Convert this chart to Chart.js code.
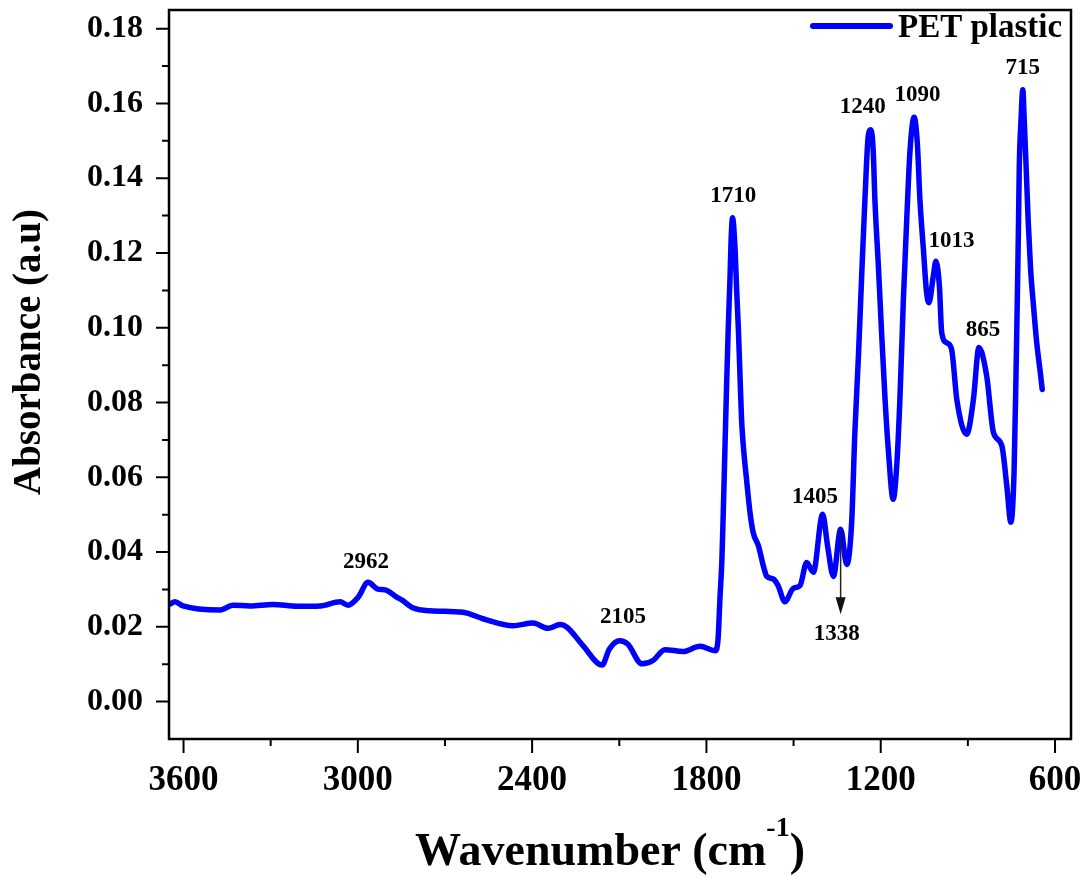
<!DOCTYPE html>
<html>
<head>
<meta charset="utf-8">
<title>PET plastic FTIR</title>
<script src="https://cdn.jsdelivr.net/npm/chart.js@4.4.1/dist/chart.umd.min.js"></script>
<style>
  html, body { margin: 0; padding: 0; background: #fff; }
  #wrap { width: 1088px; height: 876px; position: relative; }
</style>
</head>
<body>
<div id="wrap"><canvas id="ftir"></canvas></div>
<script>
// FTIR spectrum of PET plastic
const wavenumbers = [
  3649, 3629, 3602, 3474, 3430, 3371, 3292, 3209, 3129, 3061,
  3034, 2999, 2965, 2931, 2906, 2865, 2845, 2813, 2751, 2638,
  2567, 2466, 2397, 2345, 2304, 2280, 2225, 2159, 2134, 2098,
  2071, 2022, 1984, 1943, 1881, 1822, 1770, 1760, 1753, 1747,
  1742, 1736, 1730, 1725, 1719, 1715, 1710, 1702, 1696, 1690,
  1684, 1679, 1673, 1662, 1650, 1639, 1621, 1604, 1592, 1570,
  1553, 1530, 1501, 1478, 1455, 1432, 1400, 1383, 1363, 1338,
  1317, 1300, 1289, 1277, 1266, 1254, 1243, 1234, 1226, 1220,
  1208, 1197, 1185, 1174, 1157, 1145, 1134, 1122, 1110, 1099,
  1085, 1074, 1065, 1053, 1042, 1034, 1019, 1010, 998, 990,
  973, 956, 938, 904, 881, 862, 835, 812, 783, 766,
  752, 741, 734, 730, 726, 723, 717, 711, 706, 700,
  692, 684, 675, 663, 652, 644
];
const absorbance = [
  0.0260, 0.0267, 0.0256, 0.0245, 0.0258, 0.0256, 0.0260, 0.0255, 0.0256, 0.0267,
  0.0258, 0.0279, 0.0319, 0.0301, 0.0299, 0.0279, 0.0270, 0.0252, 0.0243, 0.0239,
  0.0221, 0.0203, 0.0210, 0.0196, 0.0206, 0.0199, 0.0150, 0.0098, 0.0141, 0.0163,
  0.0154, 0.0101, 0.0110, 0.0139, 0.0134, 0.0148, 0.0136, 0.0167, 0.0283, 0.0373,
  0.0506, 0.0684, 0.0862, 0.0996, 0.1129, 0.1236, 0.1294, 0.1218, 0.1103, 0.0996,
  0.0862, 0.0755, 0.0684, 0.0595, 0.0506, 0.0452, 0.0417, 0.0363, 0.0335, 0.0328,
  0.0310, 0.0267, 0.0303, 0.0310, 0.0372, 0.0346, 0.0501, 0.0417, 0.0335, 0.0461,
  0.0367, 0.0480, 0.0720, 0.0920, 0.1130, 0.1350, 0.1512, 0.1530, 0.1476, 0.1342,
  0.1164, 0.0987, 0.0808, 0.0675, 0.0541, 0.0630, 0.0808, 0.1076, 0.1298, 0.1476,
  0.1563, 0.1494, 0.1342, 0.1209, 0.1093, 0.1067, 0.1138, 0.1178, 0.1111, 0.0987,
  0.0960, 0.0942, 0.0808, 0.0715, 0.0808, 0.0947, 0.0870, 0.0720, 0.0684, 0.0577,
  0.0480, 0.0613, 0.0889, 0.1067, 0.1263, 0.1432, 0.1556, 0.1637, 0.1556, 0.1441,
  0.1280, 0.1156, 0.1067, 0.0960, 0.0889, 0.0835
];

const xTicks = [600, 1200, 1800, 2400, 3000, 3600];
const xMinorTicks = [900, 1500, 2100, 2700, 3300];
const yTicks = [0, 0.02, 0.04, 0.06, 0.08, 0.10, 0.12, 0.14, 0.16, 0.18];
const yMinorTicks = [0.01, 0.03, 0.05, 0.07, 0.09, 0.11, 0.13, 0.15, 0.17];

// peak annotations: text and the (wavenumber, absorbance) spot it sits at
const peakLabels = ['2962', '2105', '1710', '1405', '1338', '1240', '1090', '1013', '865', '715'];
const peakLabelWn = [2972, 2087, 1708, 1426, 1351, 1262, 1073, 956, 848, 711];
const peakLabelAbs = [0.0373, 0.0227, 0.1351, 0.0547, 0.0181, 0.1591, 0.1623, 0.1231, 0.0995, 0.1694];

const seriesName = 'PET plastic';
const xTitle = 'Wavenumber (cm';
const xTitleSup = '-1';
const yTitle = 'Absorbance (a.u)';

const SERIF = '"Liberation Serif", "Times New Roman", serif';
const BLUE = '#0000ff';

Chart.defaults.font.family = SERIF;
Chart.defaults.color = '#000';

// frame, ticks, legend, titles and peak notes drawn on top of the chart
const decorPlugin = {
  id: 'decor',
  afterDraw(chart) {
    const ctx = chart.ctx;
    const area = chart.chartArea;
    const xs = chart.scales.x;
    const ys = chart.scales.y;

    ctx.save();
    ctx.strokeStyle = '#000';
    ctx.lineWidth = 2.5;
    ctx.strokeRect(area.left, area.top, area.right - area.left, area.bottom - area.top);

    ctx.lineWidth = 2;
    ctx.beginPath();
    xTicks.forEach(v => {
      const px = xs.getPixelForValue(v);
      ctx.moveTo(px, area.bottom); ctx.lineTo(px, area.bottom + 14);
    });
    xMinorTicks.forEach(v => {
      const px = xs.getPixelForValue(v);
      ctx.moveTo(px, area.bottom); ctx.lineTo(px, area.bottom + 7);
    });
    yTicks.forEach(v => {
      const py = ys.getPixelForValue(v);
      ctx.moveTo(area.left, py); ctx.lineTo(area.left - 13, py);
    });
    yMinorTicks.forEach(v => {
      const py = ys.getPixelForValue(v);
      ctx.moveTo(area.left, py); ctx.lineTo(area.left - 7, py);
    });
    ctx.stroke();

    // peak labels
    ctx.fillStyle = '#000';
    ctx.font = 'bold 23px ' + SERIF;
    ctx.textAlign = 'center';
    ctx.textBaseline = 'middle';
    peakLabels.forEach((t, i) => {
      ctx.fillText(t, xs.getPixelForValue(peakLabelWn[i]), ys.getPixelForValue(peakLabelAbs[i]));
    });

    // arrow pointing down to the 1338 label
    const ax = xs.getPixelForValue(1338);
    const ay0 = ys.getPixelForValue(0.046);
    const ay1 = ys.getPixelForValue(0.0234);
    ctx.strokeStyle = '#222';
    ctx.lineWidth = 1.5;
    ctx.beginPath();
    ctx.moveTo(ax, ay0); ctx.lineTo(ax, ay1 - 14);
    ctx.stroke();
    ctx.fillStyle = '#111';
    ctx.beginPath();
    ctx.moveTo(ax - 5, ay1 - 17);
    ctx.lineTo(ax + 5, ay1 - 17);
    ctx.lineTo(ax, ay1);
    ctx.closePath();
    ctx.fill();

    // legend in the top right corner
    ctx.strokeStyle = BLUE;
    ctx.lineWidth = 6;
    ctx.lineCap = 'round';
    ctx.beginPath();
    ctx.moveTo(area.right - 258, area.top + 16);
    ctx.lineTo(area.right - 181, area.top + 16);
    ctx.stroke();
    ctx.fillStyle = '#000';
    ctx.font = 'bold 33px ' + SERIF;
    ctx.textAlign = 'left';
    ctx.textBaseline = 'alphabetic';
    ctx.fillText(seriesName, area.right - 173, area.top + 27);

    // y axis title
    ctx.save();
    ctx.translate(30, 352);
    ctx.rotate(-Math.PI / 2);
    ctx.font = 'bold 39px ' + SERIF;
    ctx.textAlign = 'center';
    ctx.textBaseline = 'middle';
    ctx.fillText(yTitle, 0, 0);
    ctx.restore();

    // x axis title with superscript
    const mainFont = 'bold 46px ' + SERIF;
    const supFont = 'bold 28px ' + SERIF;
    ctx.font = mainFont;
    const w1 = ctx.measureText(xTitle).width;
    const w3 = ctx.measureText(')').width;
    ctx.font = supFont;
    const w2 = ctx.measureText(xTitleSup).width;
    let tx = 610 - (w1 + w2 + w3) / 2;
    const base = 865;
    ctx.textAlign = 'left';
    ctx.font = mainFont;
    ctx.fillText(xTitle, tx, base);
    tx += w1;
    ctx.font = supFont;
    ctx.fillText(xTitleSup, tx, base - 29);
    tx += w2;
    ctx.font = mainFont;
    ctx.fillText(')', tx, base);
    ctx.restore();
  }
};

const points = wavenumbers.map((w, i) => ({ x: w, y: absorbance[i] }));

new Chart(document.getElementById('ftir'), {
  type: 'line',
  data: {
    datasets: [{
      label: seriesName,
      data: points,
      borderColor: BLUE,
      backgroundColor: BLUE,
      borderWidth: 5.5,
      pointRadius: 0,
      cubicInterpolationMode: 'monotone',
      borderJoinStyle: 'round',
      borderCapStyle: 'round',
      fill: false
    }]
  },
  options: {
    responsive: true,
    maintainAspectRatio: false,
    animation: false,
    layout: { padding: { top: 10, right: 17, bottom: 0, left: 0 } },
    plugins: {
      legend: { display: false },
      tooltip: { enabled: false }
    },
    scales: {
      x: {
        type: 'linear',
        reverse: true,
        min: 545,
        max: 3650,
        afterBuildTicks: s => { s.ticks = xTicks.map(v => ({ value: v })); },
        afterFit: s => {
          s.height = 137;
          s.paddingLeft = 0; s.paddingRight = 0;
        },
        grid: { display: false, drawTicks: false },
        border: { display: false },
        ticks: {
          color: '#000',
          font: { size: 35, weight: 'bold' },
          padding: 21,
          maxRotation: 0,
          autoSkip: false,
          callback: v => String(v)
        }
      },
      y: {
        type: 'linear',
        min: -0.01,
        max: 0.185,
        afterBuildTicks: s => { s.ticks = yTicks.map(v => ({ value: v })); },
        afterFit: s => {
          s.width = 169;
          s.paddingTop = 0; s.paddingBottom = 0;
        },
        grid: { display: false, drawTicks: false },
        border: { display: false },
        ticks: {
          color: '#000',
          font: { size: 32, weight: 'bold' },
          padding: 26,
          callback: v => v.toFixed(2)
        }
      }
    }
  },
  plugins: [decorPlugin]
});
</script>
</body>
</html>
